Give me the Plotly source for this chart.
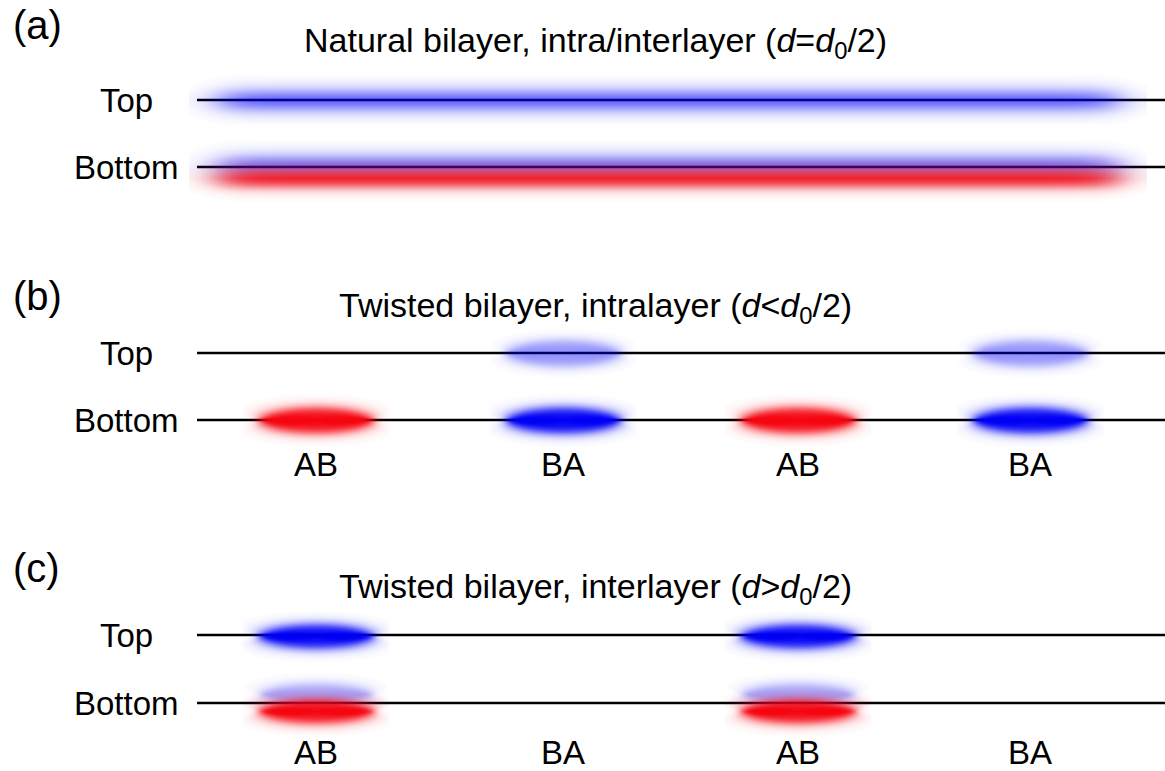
import numpy as np
import plotly.graph_objects as go

# ---- schematic data (canvas units: x right, y down) ----
W, H = 1165, 771

panel_tags = ["(a)", "(b)", "(c)"]
panel_titles = [
    "Natural bilayer, intra/interlayer (<i>d</i>=<i>d</i><sub>0</sub>/2)",
    "Twisted bilayer, intralayer (<i>d</i>&lt;<i>d</i><sub>0</sub>/2)",
    "Twisted bilayer, interlayer (<i>d</i>&gt;<i>d</i><sub>0</sub>/2)",
]
tag_y = [25, 296, 568]
title_y = [42, 307, 588]
top_y = [100, 353, 635]
bottom_y = [167, 420, 703]
label_y = [None, 464, 752]
layer_names = ["Top", "Bottom"]

# stacking sites along the moire direction
sites = ["AB", "BA", "AB", "BA"]
site_x = [316, 563, 798, 1030]

# panel (a): continuous charge bands
band_x = [200, 1137]
band_top_blue = 0.72
band_bot_blue = 0.62
band_bot_red = 0.95

# panel (b): intralayer weights per site
b_top_blue = [0.0, 0.42, 0.0, 0.42]
b_bot_blue = [0.0, 1.0, 0.0, 1.0]
b_bot_red = [1.0, 0.0, 1.0, 0.0]

# panel (c): interlayer weights per site
c_top_blue = [1.0, 0.0, 1.0, 0.0]
c_bot_blue = [0.35, 0.0, 0.35, 0.0]
c_bot_red = [1.0, 0.0, 1.0, 0.0]

BLUE = (0, 0, 245)
RED = (245, 5, 15)

FONT = "Arial, Liberation Sans, Helvetica, sans-serif"

fig = go.Figure()


def logistic(t):
    return 1.0 / (1.0 + np.exp(np.clip(t, -50, 50)))


def add_density(xs, ys, z, rgb):
    z = np.where(z < 0.01, 0.0, z)
    cs = [[0, "rgba(%d,%d,%d,0)" % rgb], [1, "rgba(%d,%d,%d,1)" % rgb]]
    fig.add_trace(go.Heatmap(
        x=xs, y=ys, z=z, zmin=0, zmax=1, colorscale=cs, showscale=False,
        zsmooth=False, hoverinfo="skip",
    ))


def blob(cx, cy, a, b, peak, rgb, soft=3.0):
    """Soft-edged ellipse (a localized charge puddle)."""
    if peak <= 0:
        return
    xs = np.arange(cx - a - 16, cx + a + 16.01, 1.0)
    ys = np.arange(cy - b - 14, cy + b + 14.01, 1.0)
    X, Y = np.meshgrid(xs, ys)
    dx, dy = X - cx, Y - cy
    r = np.sqrt((dx / a) ** 2 + (dy / b) ** 2) + 1e-9
    g = np.sqrt((dx / a**2) ** 2 + (dy / b**2) ** 2) / r + 1e-9
    dist = (r - 1.0) / g
    add_density(xs, ys, peak * logistic(dist / soft), rgb)


def band(x0, x1, cy, b, peak, rgb, soft_x=12.0, soft_y=3.5):
    """Long soft band (a delocalized charge layer) with faded ends."""
    cx, a = (x0 + x1) / 2, (x1 - x0) / 2 - 20
    xs = np.arange(x0 - 10, x1 + 10.01, 2.0)
    ys = np.arange(cy - b - 16, cy + b + 16.01, 1.0)
    X, Y = np.meshgrid(xs, ys)
    fx = logistic((np.abs(X - cx) - a) / soft_x)
    fy = logistic((np.abs(Y - cy) - b) / soft_y)
    add_density(xs, ys, peak * fx * fy, rgb)


# panel (a)
band(band_x[0], band_x[1], top_y[0], 8, band_top_blue, BLUE, soft_y=4.5)
band(band_x[0], band_x[1], bottom_y[0] - 2, 8, band_bot_blue, BLUE, soft_y=4.5)
band(band_x[0], band_x[1], bottom_y[0] + 11, 8, band_bot_red, RED, soft_y=3.5)

# panel (b)
for i, x in enumerate(site_x):
    blob(x, top_y[1], 57, 13, b_top_blue[i], BLUE)
    blob(x, bottom_y[1], 57, 13, b_bot_blue[i], BLUE)
    blob(x, bottom_y[1], 57, 13, b_bot_red[i], RED)

# panel (c)
for i, x in enumerate(site_x):
    blob(x, top_y[2] + 1, 57, 12, c_top_blue[i], BLUE)
    blob(x, bottom_y[2] - 9, 55, 11, c_bot_blue[i], BLUE)
    blob(x, bottom_y[2] + 8, 57, 12, c_bot_red[i], RED)

shapes = []
annotations = []
for p in range(3):
    for ly in (top_y[p], bottom_y[p]):
        shapes.append(dict(type="line", xref="x", yref="y", x0=197, x1=W,
                           y0=ly, y1=ly, layer="below",
                           line=dict(color="black", width=2.6)))
    annotations.append(dict(x=11, y=tag_y[p], text=panel_tags[p], showarrow=False,
                            xanchor="left", yanchor="middle",
                            font=dict(family=FONT, size=40, color="black")))
    annotations.append(dict(x=595, y=title_y[p], text=panel_titles[p], showarrow=False,
                            xanchor="center", yanchor="middle",
                            font=dict(family=FONT, size=34, color="black")))
    for name, ly in zip(layer_names, (top_y[p], bottom_y[p])):
        annotations.append(dict(x=126, y=ly, text=name, showarrow=False,
                                xanchor="center", yanchor="middle",
                                font=dict(family=FONT, size=33, color="black")))
    if label_y[p] is not None:
        for s, x in zip(sites, site_x):
            annotations.append(dict(x=x, y=label_y[p], text=s, showarrow=False,
                                    xanchor="center", yanchor="middle",
                                    font=dict(family=FONT, size=33, color="black")))

fig.update_layout(
    width=W, height=H, margin=dict(l=0, r=0, t=0, b=0),
    paper_bgcolor="white", plot_bgcolor="white",
    xaxis=dict(range=[0, W], visible=False, fixedrange=True),
    yaxis=dict(range=[H, 0], visible=False, fixedrange=True),
    shapes=shapes, annotations=annotations, showlegend=False,
)

fig.write_html("out.html")
